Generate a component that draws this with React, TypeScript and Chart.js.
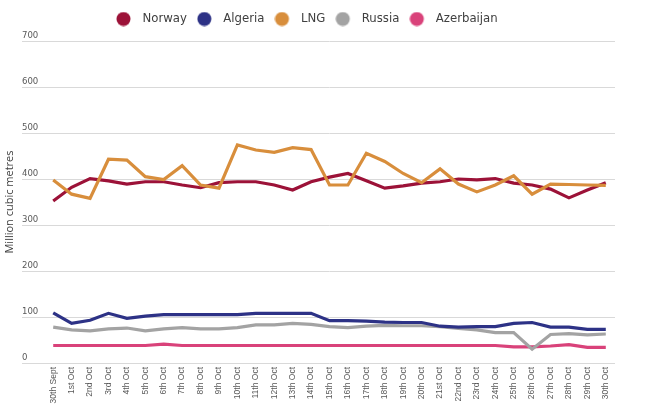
import React, { useEffect, useRef } from "react";
import { Chart, registerables } from "chart.js";

Chart.register(...registerables);

const days = [
  "30th Sept", "1st Oct", "2nd Oct", "3rd Oct", "4th Oct", "5th Oct", "6th Oct", "7th Oct",
  "8th Oct", "9th Oct", "10th Oct", "11th Oct", "12th Oct", "13th Oct", "14th Oct", "15th Oct",
  "16th Oct", "17th Oct", "18th Oct", "19th Oct", "20th Oct", "21st Oct", "22nd Oct", "23rd Oct",
  "24th Oct", "25th Oct", "26th Oct", "27th Oct", "28th Oct", "29th Oct", "30th Oct",
];

const norway = [352, 382, 401, 396, 389, 394, 394, 387, 381, 392, 394, 394, 387, 376, 394, 404, 412, 396, 380, 385, 391, 394, 400, 398, 401, 391, 387, 378, 359, 376, 392];
const algeria = [109, 86, 93, 108, 97, 102, 105, 105, 105, 105, 105, 108, 108, 108, 108, 92, 92, 91, 89, 88, 88, 80, 78, 79, 79, 86, 88, 78, 78, 73, 73];
const lng = [398, 367, 358, 443, 441, 405, 399, 429, 387, 380, 474, 463, 458, 468, 464, 387, 387, 456, 438, 412, 392, 422, 389, 372, 387, 407, 367, 389, 388, 387, 386];
const russia = [78, 72, 70, 74, 76, 70, 74, 77, 74, 74, 77, 83, 83, 86, 84, 79, 77, 80, 82, 81, 81, 79, 75, 72, 66, 66, 30, 62, 64, 61, 63];
const azerbaijan = [38, 38, 38, 38, 38, 38, 41, 38, 38, 38, 38, 38, 38, 38, 38, 38, 38, 38, 38, 38, 38, 38, 38, 38, 38, 35, 35, 37, 40, 34, 34];

const yTicks = [0, 100, 200, 300, 400, 500, 600, 700];

const condensed = "'DejaVu Sans Condensed', sans-serif";

// round legend dot with some blank room to its right
const makeDot = (color: string) => {
  const c = document.createElement("canvas");
  c.width = 20;
  c.height = 15;
  const ctx = c.getContext("2d");
  if (ctx) {
    ctx.fillStyle = color;
    ctx.beginPath();
    ctx.arc(7.5, 7.5, 7, 0, Math.PI * 2);
    ctx.fill();
  }
  return c;
};

// legend sits left of centre in the original, and needs a fixed height
const legendPlacement = {
  id: "legendPlacement",
  afterInit(chart: any) {
    const lg = chart.legend;
    if (!lg) return;
    const fit = lg.fit;
    lg.fit = function () {
      fit.call(this);
      this.height = 41;
    };
  },
  beforeDraw(chart: any) {
    const lg = chart.legend;
    if (!lg) return;
    const pad = lg.options.labels.padding;
    lg.left = 116 - pad;
    lg.top = 19 - pad - 6.5;
  },
};

const App: React.FC = () => {
  const chartRef = useRef<HTMLCanvasElement | null>(null);

  useEffect(() => {
    if (!chartRef.current) return;

    const line = (label: string, data: number[], color: string, order = 0) => ({
      label,
      data,
      borderColor: color,
      backgroundColor: color,
      borderWidth: 3.2,
      pointRadius: 0,
      pointStyle: makeDot(color),
      tension: 0,
      order,
    });

    const chart = new Chart(chartRef.current, {
      type: "line",
      data: {
        labels: days,
        datasets: [
          line("Norway", norway, "#9c1238", 1),
          line("Algeria", algeria, "#2d3286"),
          line("LNG", lng, "#d88e3c"),
          line("Russia", russia, "#a3a3a3"),
          line("Azerbaijan", azerbaijan, "#d9427a"),
        ],
      },
      plugins: [legendPlacement],
      options: {
        animation: false,
        responsive: true,
        maintainAspectRatio: false,
        layout: { padding: { top: 0, right: 36, bottom: 0, left: 0 } },
        plugins: {
          legend: {
            position: "top",
            align: "start",
            labels: {
              usePointStyle: true,
              pointStyleWidth: 20,
              boxHeight: 13,
              padding: 10,
              color: "#404040",
              font: { family: condensed, size: 13 },
              sort: (a: any, b: any) => a.datasetIndex - b.datasetIndex,
            },
          },
          tooltip: { enabled: false },
        },
        scales: {
          x: {
            offset: true,
            grid: { display: false, drawTicks: false },
            border: { display: false },
            ticks: {
              autoSkip: false,
              maxRotation: 90,
              minRotation: 90,
              padding: 4,
              color: "#595959",
              font: { family: "'Liberation Sans', sans-serif", size: 8.5 },
            },
            afterFit: (scale: any) => {
              scale.height = 45;
            },
          },
          y: {
            min: 0,
            max: 700,
            afterBuildTicks: (scale: any) => {
              scale.ticks = yTicks.map((v) => ({ value: v }));
            },
            grid: { color: "#d9d9d9", lineWidth: 1, drawTicks: true, tickLength: 22 },
            border: { display: false },
            ticks: {
              mirror: true,
              padding: -22,
              labelOffset: -5.5,
              color: "#595959",
              font: { family: condensed, size: 9.5 },
            },
            title: {
              display: true,
              text: "Million cubic metres",
              color: "#404040",
              font: { family: "'Open Sans', sans-serif", size: 11 },
              padding: { top: 3, bottom: 0 },
            },
            afterFit: (scale: any) => {
              scale.width = 44;
            },
          },
        },
      },
    });

    return () => {
      chart.destroy();
    };
  }, []);

  return (
    <div style={{ position: "absolute", left: 0, top: 0, width: 651, height: 408, background: "#fff" }}>
      <canvas ref={chartRef}></canvas>
    </div>
  );
};

export default App;
